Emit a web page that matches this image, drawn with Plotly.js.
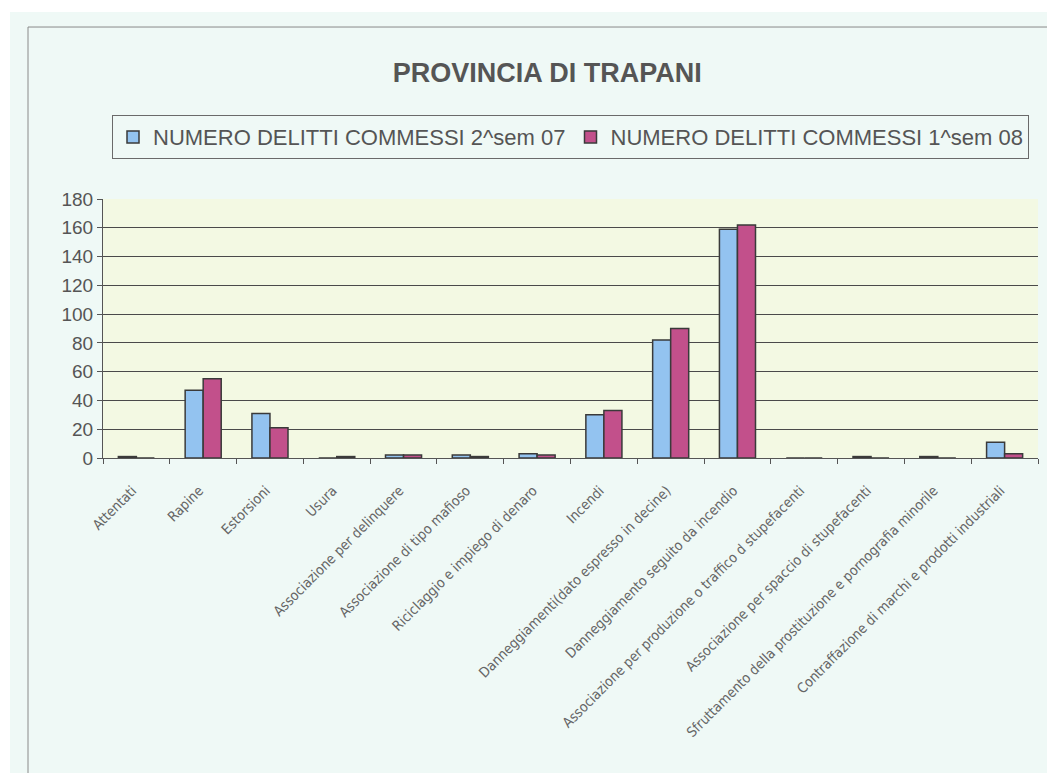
<!DOCTYPE html>
<html>
<head>
<meta charset="utf-8">
<script src="https://cdn.plot.ly/plotly-3.0.1.min.js"></script>
<style>
  html, body { margin: 0; padding: 0; background: #ffffff; }
  #chart { position: absolute; left: 10px; top: 12px; width: 1037px; height: 761px; }
</style>
</head>
<body>
<div id="chart"></div>
<script>
const categories = [
  "Attentati",
  "Rapine",
  "Estorsioni",
  "Usura",
  "Associazione per delinquere",
  "Associazione di tipo mafioso",
  "Riciclaggio e impiego di denaro",
  "Incendi",
  "Danneggiamenti(dato espresso in decine)",
  "Danneggiamento seguito da incendio",
  "Associazione per produzione o traffico d stupefacenti",
  "Associazione per spaccio di stupefacenti",
  "Sfruttamento della prostituzione e pornografia minorile",
  "Contraffazione di marchi e prodotti industriali"
];
const seriesNames = ["NUMERO DELITTI COMMESSI 2^sem 07", "NUMERO DELITTI COMMESSI 1^sem 08"];
const sem2_07 = [1, 47, 31, 0, 2, 2, 3, 30, 82, 159, 0, 1, 1, 11];
const sem1_08 = [0, 55, 21, 1, 2, 1, 2, 33, 90, 162, 0, 0, 0, 3];
const yTicks = [0, 20, 40, 60, 80, 100, 120, 140, 160, 180];

const barLine = { color: "#3a3a3a", width: 1.5 };
const data = [
  { type: "bar", name: seriesNames[0], x: categories, y: sem2_07,
    marker: { color: "#93c3f0", line: barLine } },
  { type: "bar", name: seriesNames[1], x: categories, y: sem1_08,
    marker: { color: "#c2508b", line: barLine } }
];

const layout = {
  width: 1037, height: 761,
  margin: { l: 93, r: 9, t: 187, b: 315 },
  paper_bgcolor: "#eff9f6",
  plot_bgcolor: "#f3f9e3",
  barmode: "group",
  bargap: 0.46,
  bargroupgap: 0,
  showlegend: true,
  title: {
    text: "<b>PROVINCIA DI TRAPANI</b>",
    font: { family: "Liberation Sans, Arial, sans-serif", size: 27, color: "#555555" },
    x: 0.518, xanchor: "center", y: 0.921, yanchor: "middle"
  },
  legend: {
    orientation: "h",
    x: 0.5, xanchor: "center", y: 1.324, yanchor: "top",
    bordercolor: "#6a6a6a", borderwidth: 1, bgcolor: "rgba(0,0,0,0)",
    font: { family: "Liberation Sans, Arial, sans-serif", size: 22, color: "#555555" },
    itemwidth: 30, traceorder: "normal"
  },
  xaxis: {
    type: "category",
    tickangle: -45,
    tickfont: { family: "Liberation Sans Narrow, DejaVu Sans Condensed, sans-serif", size: 14, color: "#666666" },
    ticklabelstandoff: 18,
    ticklabelshift: -4,
    showline: true, linecolor: "#555555", linewidth: 1,
    ticks: "outside", tickson: "boundaries", ticklen: 5, tickcolor: "#555555",
    showgrid: false, automargin: false
  },
  yaxis: {
    range: [0, 180],
    tickvals: yTicks,
    tickfont: { family: "Liberation Sans, Arial, sans-serif", size: 19, color: "#555555" },
    showline: true, linecolor: "#555555", linewidth: 1,
    ticks: "outside", ticklen: 5, tickcolor: "#555555",
    showgrid: true, gridcolor: "#4a4a4a", gridwidth: 1,
    zeroline: false, automargin: false
  },
  shapes: [
    { type: "rect", xref: "paper", yref: "paper", layer: "below",
      x0: -0.0802, x1: 1.03, y0: -1.3, y1: 1.664,
      line: { color: "#8a8a8a", width: 1 }, fillcolor: "rgba(0,0,0,0)" }
  ]
};

Plotly.newPlot("chart", data, layout, { staticPlot: true, displayModeBar: false });
</script>
</body>
</html>
